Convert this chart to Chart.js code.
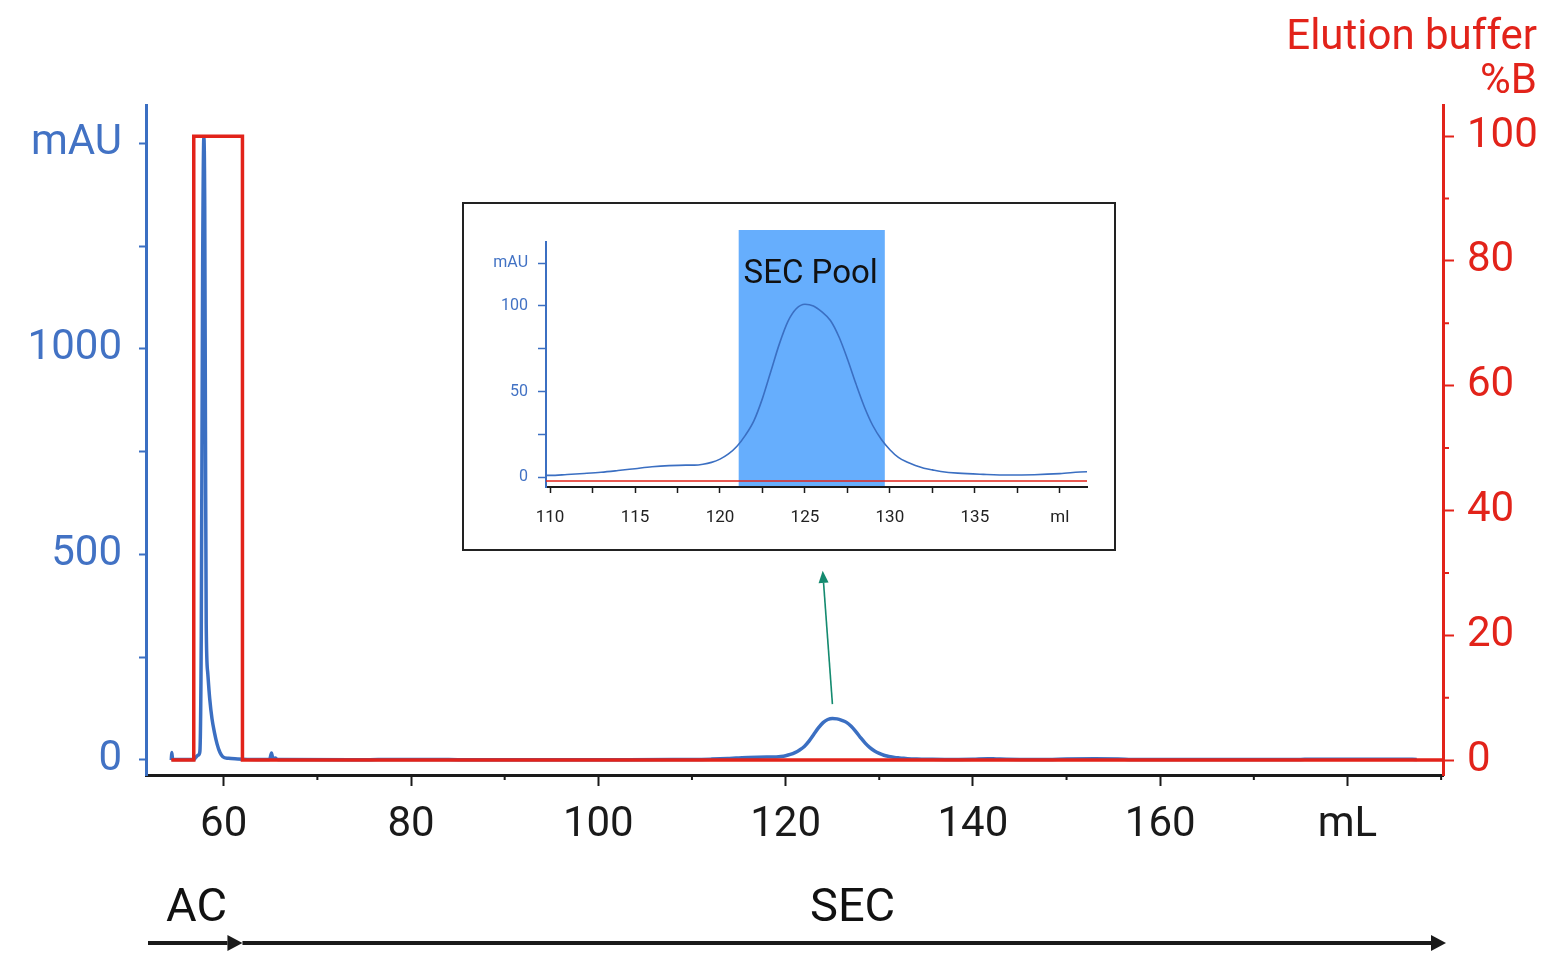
<!DOCTYPE html>
<html>
<head>
<meta charset="utf-8">
<script src="https://cdn.jsdelivr.net/npm/chart.js@4.4.0/dist/chart.umd.min.js"></script>
<style>
  body { margin: 0; background: #fff; font-family: Roboto, sans-serif; }
  #wrap { position: relative; width: 1547px; height: 954px; overflow: hidden; }
  #main { position: absolute; left: 0; top: 0; }
  #insetBox { position: absolute; left: 462px; top: 202px; width: 650px; height: 345px;
              border: 2px solid #222; background: #fff; }
  #inset { position: absolute; left: 0; top: 0; }
  .txt { position: absolute; white-space: nowrap; line-height: 1; }
  .red { color: #e2231a; font-size: 42px; right: 10px; }
  .phase { color: #111; font-size: 47px; }
</style>
</head>
<body>
<div id="wrap">
  <canvas id="main" width="1547" height="954"></canvas>
  <div class="txt red" style="top:14px">Elution buffer</div>
  <div class="txt red" style="top:58px">%B</div>
  <div class="txt phase" style="left:166px; top:881px">AC</div>
  <div class="txt phase" style="left:810px; top:881px">SEC</div>
  <div id="insetBox"><canvas id="inset" width="650" height="345"></canvas></div>
</div>
<script>
// UV trace, mAU vs elution volume in mL
const volume = [54.4, 54.45, 54.55, 56.8, 57.0, 57.3, 57.45, 57.6, 57.75, 57.88, 57.97, 58.05, 58.13, 58.3, 58.5,
  58.75, 59.0, 59.3, 59.6, 59.9, 60.5, 61.5, 62.5, 64.9, 65.1, 65.25, 65.5, 65.7, 66, 75, 78, 83, 85, 100, 108,
  110, 111, 112, 113, 114, 115, 116, 117, 118, 118.5, 119, 119.5, 120, 120.5, 121, 121.5,
  122, 122.5, 123, 123.5, 124, 124.5, 125, 125.5, 126, 126.5, 127, 127.5, 128, 128.5, 129, 129.5, 130, 130.5,
  131, 131.5, 132, 132.5, 133, 134, 135.5, 137, 138.5, 140, 141.6, 142.5, 145, 148, 150, 153, 155.5, 157, 165,
  170, 175, 176, 186, 187.4]
const uv = [0, 18, 1, 1, 6, 12, 20, 300, 1200, 1515, 1350, 800, 330, 210, 150,
  100, 68, 38, 18, 8, 4, 2.5, 1.5, 1, 17, 3, 5, 1.5, 1, 0.5, 1.5, 1.5, 0.8, 0.8, 1,
  1, 1.5, 2.1, 2.8, 3.8, 4.9, 6, 6.7, 7, 7, 7.5, 8.6, 10.5, 13.5, 18, 24.5,
  33, 46, 62, 78, 91, 98.5, 101, 100, 96.5, 91.5, 82, 69, 54.5, 41, 30, 22, 16, 11.5,
  8.8, 6.8, 5.2, 4.2, 3.3, 2.3, 1.6, 1.2, 1.4, 2, 3.1, 2.5, 1.5, 1.5, 2.5, 2.8, 2.5, 1.5, 1,
  1, 1.5, 2, 2, 1.5]

// elution buffer step, %B
const bufferVolume = [54.4, 56.8, 56.8, 62.0, 62.0, 190.2]
const bufferB = [0, 0, 100, 100, 0, 0]

// axis ticks
const mainXTicks = [60, 80, 100, 120, 140, 160, 180]
const mainXMinor = [70, 90, 110, 130, 150, 170, 190]
const uvTicks = [0, 250, 500, 750, 1000, 1250, 1500]
const bufferTicks = [0, 20, 40, 60, 80, 100]
const bufferMinor = [10, 30, 50, 70, 90]
const insetXTicks = [110, 112.5, 115, 117.5, 120, 122.5, 125, 127.5, 130, 132.5, 135, 137.5, 140]
const insetYTicks = [0, 25, 50, 75, 100, 125]
const secPool = [121.1, 129.7]
const acEnd = 62.0

const BLUE = '#3b6fc2'
const BLUE_TXT = '#4272c4'
const RED = '#e2231a'
const INK = '#1a1a1a'

Chart.defaults.font.family = 'Roboto'

const uvPoints = volume.map((v, i) => ({ x: v, y: uv[i] }))
const bufferPoints = bufferVolume.map((v, i) => ({ x: v, y: bufferB[i] }))

const setTicks = (vals) => (scale) => { scale.ticks = vals.map(v => ({ value: v })) }

const minorTicks = {
  id: 'minorTicks',
  afterDraw(chart, args, opts) {
    const ctx = chart.ctx
    ;(opts.list || []).forEach(m => {
      const s = chart.scales[m.scale]
      ctx.save()
      ctx.strokeStyle = m.color
      ctx.lineWidth = m.width
      ctx.beginPath()
      m.values.forEach(v => {
        const p = s.getPixelForValue(v)
        if (s.isHorizontal()) { ctx.moveTo(p, s.top); ctx.lineTo(p, s.top + m.length) }
        else if (s.position === 'right') { ctx.moveTo(s.left, p); ctx.lineTo(s.left + m.length, p) }
        else { ctx.moveTo(s.right, p); ctx.lineTo(s.right - m.length, p) }
      })
      ctx.stroke()
      ctx.restore()
    })
  }
}

function arrow(ctx, xa, ya, xb, yb, head, half, color, lw) {
  const c = Math.cos(Math.atan2(yb - ya, xb - xa))
  const s = Math.sin(Math.atan2(yb - ya, xb - xa))
  ctx.save()
  ctx.strokeStyle = color
  ctx.fillStyle = color
  ctx.lineWidth = lw
  ctx.beginPath()
  ctx.moveTo(xa, ya)
  ctx.lineTo(xb - head * c, yb - head * s)
  ctx.stroke()
  ctx.beginPath()
  ctx.moveTo(xb, yb)
  ctx.lineTo(xb - head * c - half * s, yb - head * s + half * c)
  ctx.lineTo(xb - head * c + half * s, yb - head * s - half * c)
  ctx.closePath()
  ctx.fill()
  ctx.restore()
}

const mainExtras = {
  id: 'mainExtras',
  afterDraw(chart) {
    const { ctx, chartArea, scales: { x, y } } = chart
    // pointer from the SEC peak up to the zoomed view
    arrow(ctx, x.getPixelForValue(125), y.getPixelForValue(136),
      x.getPixelForValue(123.96), y.getPixelForValue(460), 12, 5, '#148a6f', 1.6)
    // AC / SEC phase arrows
    const split = x.getPixelForValue(acEnd)
    arrow(ctx, chartArea.left + 2, 943, split, 943, 15, 8, INK, 4)
    arrow(ctx, split, 943, chartArea.right + 3, 943, 15, 8, INK, 4)
  }
}

new Chart(document.getElementById('main'), {
  type: 'line',
  data: {
    datasets: [
      { label: '%B', data: bufferPoints, yAxisID: 'y2', borderColor: RED, borderWidth: 3.5,
        pointRadius: 0, tension: 0 },
      { label: 'UV', data: uvPoints, yAxisID: 'y', borderColor: BLUE, borderWidth: 3.5,
        pointRadius: 0, cubicInterpolationMode: 'monotone' }
    ]
  },
  options: {
    responsive: false,
    animation: false,
    layout: { padding: { top: 105, left: 0, right: 0, bottom: 0 } },
    plugins: {
      legend: { display: false },
      tooltip: { enabled: false },
      minorTicks: { list: [
        { scale: 'x', values: mainXMinor, length: 5, color: INK, width: 2 },
        { scale: 'y2', values: bufferMinor, length: 6, color: RED, width: 2 }
      ] }
    },
    scales: {
      x: {
        type: 'linear', min: 51.7, max: 190.2,
        afterBuildTicks: setTicks(mainXTicks),
        afterFit: (s) => { s.height = 179 },
        border: { color: INK, width: 3 },
        grid: { drawOnChartArea: false, tickLength: 11, tickColor: INK, tickWidth: 2 },
        ticks: { autoSkip: false, maxRotation: 0, padding: 14, color: INK, font: { size: 42 },
          callback: (v) => v === 180 ? 'mL' : v }
      },
      y: {
        position: 'left', min: -36.5, max: 1593,
        afterBuildTicks: setTicks(uvTicks),
        afterFit: (s) => { s.width = 146 },
        border: { color: BLUE, width: 3 },
        grid: { drawOnChartArea: false, tickLength: 7, tickColor: BLUE, tickWidth: 2 },
        ticks: { autoSkip: false, padding: 17, color: BLUE_TXT, font: { size: 42 },
          callback: (v) => v === 1500 ? 'mAU' : (v % 500 === 0 ? v : '') }
      },
      y2: {
        position: 'right', min: -2.4, max: 105,
        afterBuildTicks: setTicks(bufferTicks),
        afterFit: (s) => { s.width = 104 },
        border: { color: RED, width: 3 },
        grid: { drawOnChartArea: false, tickLength: 11, tickColor: RED, tickWidth: 2 },
        ticks: { autoSkip: false, padding: 13, color: RED, font: { size: 42 } }
      }
    }
  },
  plugins: [minorTicks, mainExtras]
})

// zoomed view of the SEC peak
const poolBand = {
  id: 'poolBand',
  beforeDatasetsDraw(chart) {
    const { ctx, chartArea, scales: { x } } = chart
    const x0 = x.getPixelForValue(secPool[0])
    const x1 = x.getPixelForValue(secPool[1])
    ctx.save()
    ctx.fillStyle = '#66aefd'
    ctx.fillRect(x0, chartArea.top - 12, x1 - x0, chartArea.bottom - chartArea.top + 11)
    ctx.fillStyle = '#111'
    ctx.font = '33px Roboto'
    ctx.textAlign = 'center'
    ctx.textBaseline = 'middle'
    ctx.fillText('SEC Pool', (x0 + x1) / 2 - 1, chartArea.top + 33)
    ctx.restore()
  }
}

new Chart(document.getElementById('inset'), {
  type: 'line',
  data: {
    datasets: [
      { label: '%B', data: bufferPoints, yAxisID: 'y2', borderColor: RED, borderWidth: 1.6,
        pointRadius: 0, tension: 0 },
      { label: 'UV', data: uvPoints, yAxisID: 'y', borderColor: BLUE, borderWidth: 1.6,
        pointRadius: 0, cubicInterpolationMode: 'monotone' }
    ]
  },
  options: {
    responsive: false,
    animation: false,
    layout: { padding: { top: 38, left: 0, right: 27, bottom: 0 } },
    plugins: { legend: { display: false }, tooltip: { enabled: false } },
    scales: {
      x: {
        type: 'linear', min: 109.76, max: 141.6,
        afterBuildTicks: setTicks(insetXTicks),
        afterFit: (s) => { s.height = 62 },
        border: { color: INK, width: 2 },
        grid: { drawOnChartArea: false, tickLength: 6, tickColor: INK, tickWidth: 1.5 },
        ticks: { autoSkip: false, maxRotation: 0, padding: 15, color: '#222', font: { size: 17 },
          callback: (v) => v === 140 ? 'ml' : (v % 5 === 0 ? v : '') }
      },
      y: {
        position: 'left', min: -5.8, max: 137.4,
        afterBuildTicks: setTicks(insetYTicks),
        afterFit: (s) => { s.width = 82 },
        border: { color: BLUE, width: 2 },
        grid: { drawOnChartArea: false, tickLength: 8, tickColor: BLUE, tickWidth: 1.5 },
        ticks: { autoSkip: false, padding: 10, color: BLUE_TXT, font: { size: 16 },
          callback: (v) => v === 125 ? 'mAU' : (v % 50 === 0 ? v : '') }
      },
      y2: { display: false, min: -2.5, max: 100 }
    }
  },
  plugins: [poolBand]
})
</script>
</body>
</html>
